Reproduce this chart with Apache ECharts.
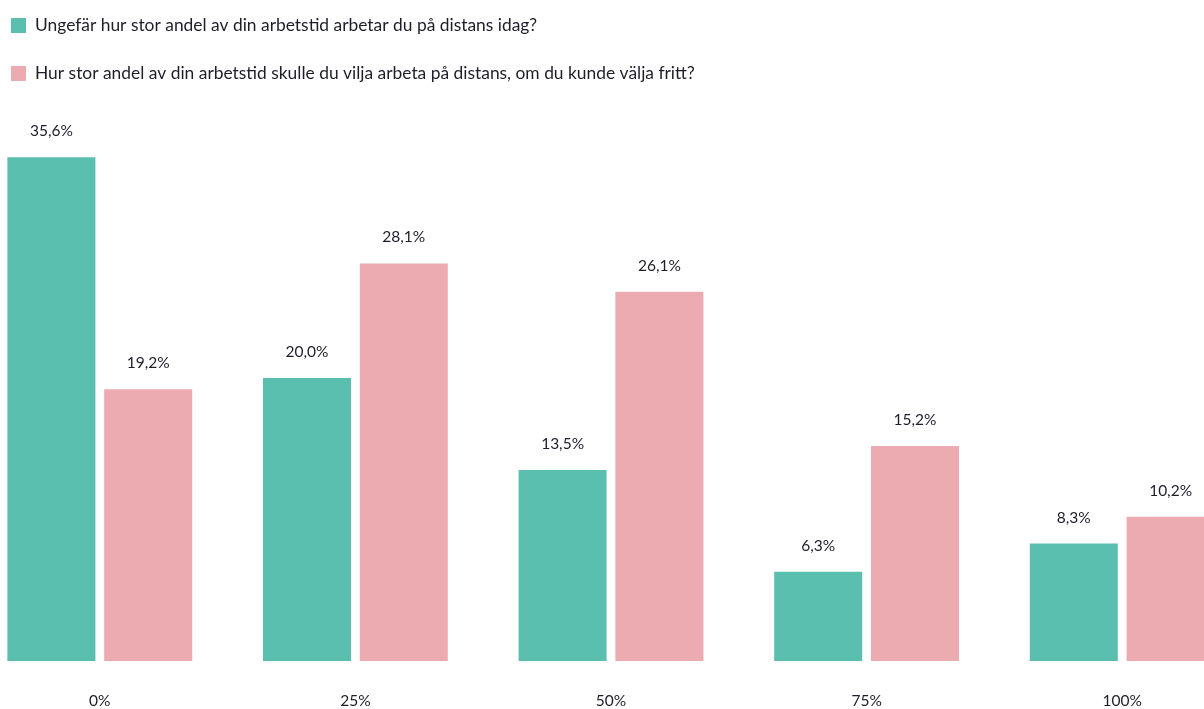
<!DOCTYPE html>
<html>
<head>
<meta charset="utf-8">
<script src="https://cdn.jsdelivr.net/npm/echarts@6/dist/echarts.min.js"></script>
<style>html,body{margin:0;padding:0;background:#fff;overflow:hidden;width:1204px;height:709px}#c{position:absolute;left:-28px;top:0;width:1278px;height:709px}</style>
</head>
<body>
<div id="c"></div>
<script>
const categories = ['0%', '25%', '50%', '75%', '100%'];
const seriesNames = [
  'Ungefär hur stor andel av din arbetstid arbetar du på distans idag?',
  'Hur stor andel av din arbetstid skulle du vilja arbeta på distans, om du kunde välja fritt?'
];
const todayValues = [35.6, 20.0, 13.5, 6.3, 8.3];
const wishValues = [19.2, 28.1, 26.1, 15.2, 10.2];

const fmt = p => p.value.toFixed(1).replace('.', ',') + '%';
const font = 'Lato, "Open Sans", sans-serif';
const textColor = '#1e1e2a';

const chart = echarts.init(document.getElementById('c'));
chart.setOption({
  animation: false,
  textStyle: { fontFamily: font },
  legend: {
    orient: 'vertical', left: 39, top: 17, padding: 0,
    itemWidth: 15, itemHeight: 15, itemGap: 31,
    icon: 'rect',
    textStyle: { fontSize: 17.4, color: textColor, fontFamily: font, padding: [0, 0, 0, 4] },
    data: seriesNames
  },
  grid: { left: 0, right: 0, top: 95, bottom: 46, containLabel: false },
  xAxis: {
    type: 'category', data: categories,
    axisLine: { show: false }, axisTick: { show: false },
    axisLabel: { margin: 32, fontSize: 15.5, color: textColor, fontFamily: font }
  },
  yAxis: { type: 'value', min: 0, max: 40, show: false, splitLine: { show: false } },
  series: [
    {
      name: seriesNames[0], type: 'bar', data: todayValues,
      barWidth: 88, barGap: '10%',
      itemStyle: { color: '#5bbfb0' },
      label: { show: true, position: 'top', distance: 18, formatter: fmt, fontSize: 15.5, color: textColor, fontFamily: font }
    },
    {
      name: seriesNames[1], type: 'bar', data: wishValues,
      barWidth: 88,
      itemStyle: { color: '#ecabb1' },
      label: { show: true, position: 'top', distance: 18, formatter: fmt, fontSize: 15.5, color: textColor, fontFamily: font }
    }
  ]
});
</script>
</body>
</html>
